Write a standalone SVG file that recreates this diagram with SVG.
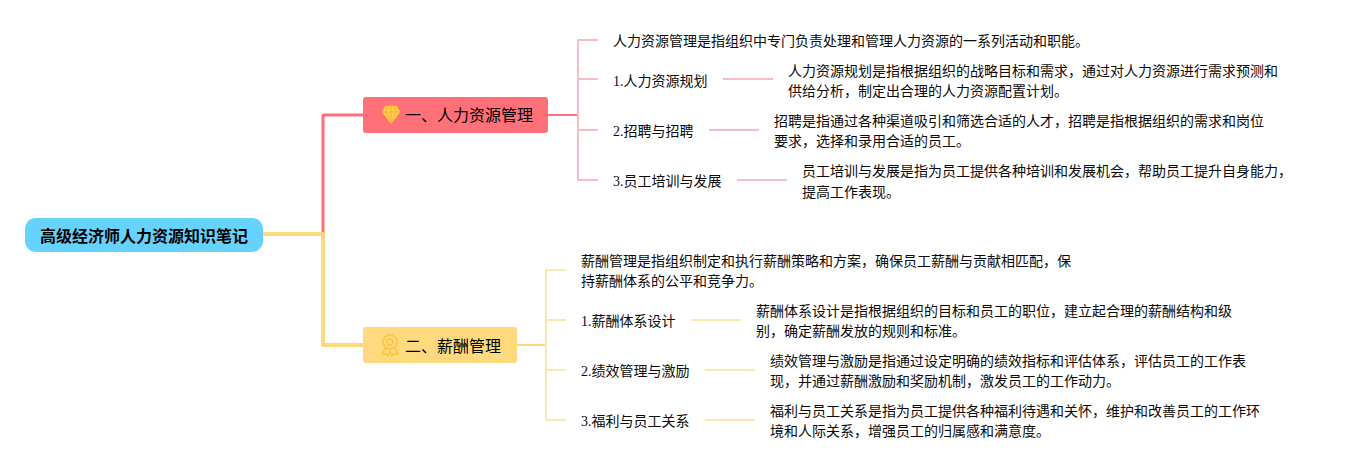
<svg xmlns="http://www.w3.org/2000/svg" width="1362" height="470" viewBox="0 0 1362 470">
<style>
text{font-family:"Liberation Serif","Noto Sans CJK SC",serif;font-size:14px;fill:#0a0a0a}
.main{font-size:16px;fill:#000}
.root{font-size:16px;font-weight:700;fill:#000}
.c{fill:none;stroke-linejoin:round}
.pink{stroke:#f7bcc4;stroke-width:2}
.yel{stroke:#fde8b4;stroke-width:2}
</style>
<rect width="1362" height="470" fill="#fff"/>
<g id="connectors">
<path class="c" d="M323 234V115H363" stroke="#ff7079" stroke-width="3"/>
<path class="c" d="M263 234H323V345H363" stroke="#ffd97d" stroke-width="4"/>
<path class="c" d="M548 115H578" stroke="#ff7079" stroke-width="2"/>
<path class="c" d="M517 345H546" stroke="#ffd97d" stroke-width="2"/>
<path class="c pink" d="M598 40H578V180H598M578 79H598M578 130H598M723 79H773M709 130H759M737 180H787"/>
<path class="c yel" d="M566 270H546V420H566M546 320H566M546 370H566M691 320H741M705 370H755M705 420H755"/>
</g>
<g id="root"><rect x="25" y="218" width="238" height="34" rx="11" fill="#66d3ff"/><text class="root" x="40" y="242">高级经济师人力资源知识笔记</text></g>
<g id="node-1"><rect x="363" y="97" width="185" height="36" rx="3" fill="#ff7079"/>
<path d="M385.500 106H396.500L400 112L391 123.500L382 112Z" fill="#ffd23f" stroke="#f5c02e" stroke-width="1"/>
<path d="M382 112H400M388 106L386 112L391 123L396 112L394 106M391 106V123" fill="none" stroke="#ff9c5a" stroke-width=".8"/>
<text class="main" x="405" y="121">一、人力资源管理</text></g>
<g id="node-1-0"><text x="613" y="46">人力资源管理是指组织中专门负责处理和管理人力资源的一系列活动和职能。</text></g>
<g id="node-1-1"><text x="613" y="86">1.人力资源规划</text></g>
<g id="node-1-1-d"><text x="788" y="76">人力资源规划是指根据组织的战略目标和需求，通过对人力资源进行需求预测和</text><text x="788" y="96">供给分析，制定出合理的人力资源配置计划。</text></g>
<g id="node-1-2"><text x="613" y="136">2.招聘与招聘</text></g>
<g id="node-1-2-d"><text x="774" y="126">招聘是指通过各种渠道吸引和筛选合适的人才，招聘是指根据组织的需求和岗位</text><text x="774" y="146">要求，选择和录用合适的员工。</text></g>
<g id="node-1-3"><text x="613" y="186">3.员工培训与发展</text></g>
<g id="node-1-3-d"><text x="802" y="176">员工培训与发展是指为员工提供各种培训和发展机会，帮助员工提升自身能力，</text><text x="802" y="197">提高工作表现。</text></g>
<g id="node-2"><rect x="363" y="327" width="154" height="36" rx="3" fill="#ffd97d"/>
<circle cx="390" cy="342" r="7" fill="none" stroke="#fdc53a" stroke-width="1.6"/><circle cx="390" cy="342" r="3" fill="none" stroke="#fdc53a" stroke-width="1.4"/>
<path d="M385 348L382 354L386 354L388 356L390 351L392 356L394 354L398 354L395 348" fill="none" stroke="#fdc53a" stroke-width="1.4"/>
<text class="main" x="405" y="352">二、薪酬管理</text></g>
<g id="node-2-0"><text x="581" y="266">薪酬管理是指组织制定和执行薪酬策略和方案，确保员工薪酬与贡献相匹配，保</text><text x="581" y="286">持薪酬体系的公平和竞争力。</text></g>
<g id="node-2-1"><text x="581" y="326">1.薪酬体系设计</text></g>
<g id="node-2-1-d"><text x="756" y="316">薪酬体系设计是指根据组织的目标和员工的职位，建立起合理的薪酬结构和级</text><text x="756" y="336">别，确定薪酬发放的规则和标准。</text></g>
<g id="node-2-2"><text x="581" y="376">2.绩效管理与激励</text></g>
<g id="node-2-2-d"><text x="770" y="366">绩效管理与激励是指通过设定明确的绩效指标和评估体系，评估员工的工作表</text><text x="770" y="386">现，并通过薪酬激励和奖励机制，激发员工的工作动力。</text></g>
<g id="node-2-3"><text x="581" y="426">3.福利与员工关系</text></g>
<g id="node-2-3-d"><text x="770" y="416">福利与员工关系是指为员工提供各种福利待遇和关怀，维护和改善员工的工作环</text><text x="770" y="436">境和人际关系，增强员工的归属感和满意度。</text></g>
</svg>
